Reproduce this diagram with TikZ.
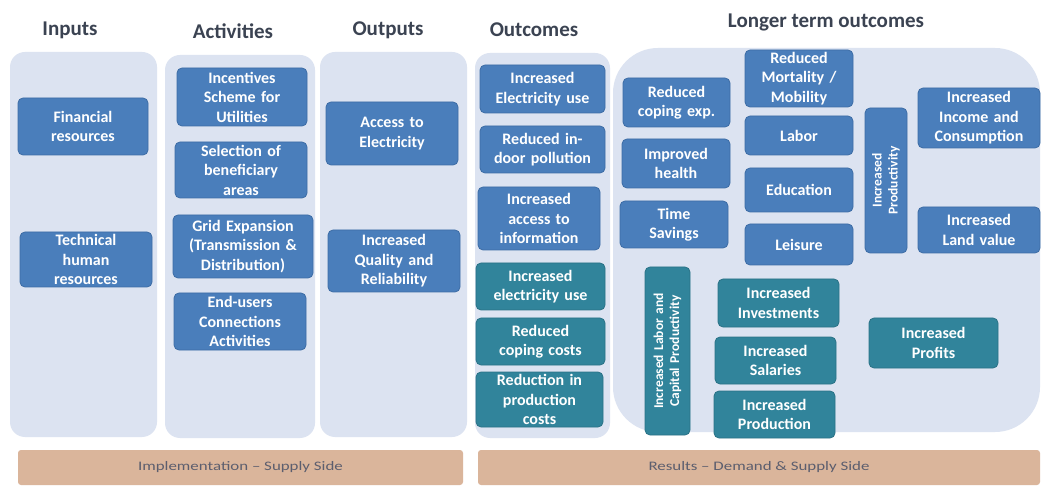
\documentclass[tikz,border=0pt]{standalone}
\usepackage{fontspec}
\setmainfont{Carlito}
\definecolor{colbg}{HTML}{DCE3F1}
\definecolor{boxblue}{HTML}{4A7EBB}
\definecolor{boxblueD}{HTML}{3C6CA5}
\definecolor{boxteal}{HTML}{31849B}
\definecolor{boxtealD}{HTML}{2A7286}
\definecolor{barcol}{HTML}{DAB59B}
\definecolor{headcol}{HTML}{3B4352}
\definecolor{bartext}{HTML}{5C5E6E}
\tikzset{
  col/.style={fill=colbg, draw=none, rounded corners=15pt, inner sep=0pt},
  bigcol/.style={fill=colbg, draw=none, rounded corners=45pt, inner sep=0pt},
  sz/.style 2 args={minimum width=#1, minimum height=#2, text width=#1},
  bbox/.style={fill=boxblue, draw=boxblueD, line width=0.8pt, rounded corners=5pt,
    text=white, align=center, inner sep=0pt,
    font=\fontsize{16}{19.5}\selectfont\bfseries},
  tbox/.style={bbox, fill=boxteal, draw=boxtealD},
  vbox/.style={font=\fontsize{13.5}{16}\selectfont\bfseries, rotate=90},
  head/.style={text=headcol, font=\fontsize{21}{25}\selectfont\bfseries},
  bar/.style={fill=barcol, draw=none, rounded corners=3pt, inner sep=0pt,
    text=bartext, font=\fontsize{13}{15}\selectfont},
}
\begin{document}
\begin{tikzpicture}[x=1pt, y=-1pt]
\useasboundingbox (0,0) rectangle (1044,486);
\fill[white] (0,0) rectangle (1044,486);

% column backgrounds
\node[col, minimum width=147, minimum height=385] (cin) at (83.5,244.5) {};
\node[col, minimum width=150, minimum height=383] (cact) at (240,246.5) {};
\node[col, minimum width=147, minimum height=385] (cout) at (393.5,244.5) {};
\node[col, minimum width=135, minimum height=385] (cres) at (542.5,245.5) {};
\node[bigcol, minimum width=427, minimum height=384] (clong) at (826.5,240) {};

% column headings
\node[head] (hin)   at (70,30)  {Inputs};
\node[head] (hact)  at (233,31) {Activities};
\node[head] (hout)  at (388,30) {Outputs};
\node[head] (hres)  at (534,30) {Outcomes};
\node[head] (hlong) at (826,22) {Longer term outcomes};

% inputs
\node[bbox, sz={130}{57}] (fin)  at (83,126.5) {Financial\\resources};
\node[bbox, sz={132}{55}] (tech) at (86,259.5) {Technical\\human\\resources};

% activities
\node[bbox, sz={130}{58}] (inc)  at (242,97)    {Incentives\\Scheme for\\Utilities};
\node[bbox, sz={132}{56}] (sel)  at (241,170)   {Selection of\\beneficiary\\areas};
\node[bbox, sz={140}{63}] (grid) at (243,246.5) {Grid Expansion\\(Transmission \&\\Distribution)};
\node[bbox, sz={132}{57}] (endu) at (240,321.5) {End-users\\Connections\\Activities};

% outputs
\node[bbox, sz={132}{63}] (acc)  at (392,133.5) {Access to\\Electricity};
\node[bbox, sz={132}{62}] (qual) at (394,261)   {Increased\\Quality and\\Reliability};

% outcomes
\node[bbox, sz={125}{48}] (eluse) at (542.5,89)    {Increased\\Electricity use};
\node[bbox, sz={125}{47}] (poll)  at (542.5,149.5) {Reduced in-\\door pollution};
\node[bbox, sz={122}{63}] (info)  at (539,218.5)   {Increased\\access to\\information};
\node[tbox, sz={129}{47}] (eluse2) at (540.5,286.5) {Increased\\electricity use};
\node[tbox, sz={129}{47}] (coping) at (540.5,341.5) {Reduced\\coping costs};
\node[tbox, sz={127}{55}] (prcost) at (539.5,399.5) {Reduction in\\production\\costs};

% longer term outcomes
\node[bbox, sz={107}{49}] (rce)   at (676.5,102.5) {Reduced\\coping exp.};
\node[bbox, sz={108}{49}] (ih)    at (676,163.5)   {Improved\\health};
\node[bbox, sz={108}{47}] (ts)    at (674,224.5)   {Time\\Savings};
\node[bbox, sz={108}{57}] (rmm)   at (799,78.5)    {Reduced\\Mortality /\\Mobility};
\node[bbox, sz={108}{39}] (labor) at (799,135.5)   {Labor};
\node[bbox, sz={108}{44}] (edu)   at (799,190)     {Education};
\node[bbox, sz={108}{41}] (leis)  at (799,244.5)   {Leisure};
\node[bbox, vbox, sz={145}{42}] (prod) at (886,180.5) {Increased\\Productivity};
\node[bbox, sz={122}{60}] (incm)  at (979,118)     {Increased\\Income and\\Consumption};
\node[bbox, sz={122}{46}] (land)  at (979,230)     {Increased\\Land value};
\node[tbox, vbox, sz={168}{45}] (lcp) at (667.5,351) {Increased Labor and\\Capital Productivity};
\node[tbox, sz={121}{48}] (inv)   at (778.5,303)   {Increased\\Investments};
\node[tbox, sz={121}{47}] (sal)   at (775.5,360.5) {Increased\\Salaries};
\node[tbox, sz={121}{47}] (prodn) at (774.5,414.5) {Increased\\Production};
\node[tbox, sz={129}{50}] (prof)  at (933.5,343)   {Increased\\Profits};

% bottom bars
\node[bar, minimum width=445, minimum height=35] (impl) at (240.5,467.5)
  {\scalebox{1.3}[1]{Implementation – Supply Side}};
\node[bar, minimum width=562, minimum height=35] (resu) at (759,467.5)
  {\scalebox{1.3}[1]{Results – Demand \& Supply Side}};
\end{tikzpicture}
\end{document}
